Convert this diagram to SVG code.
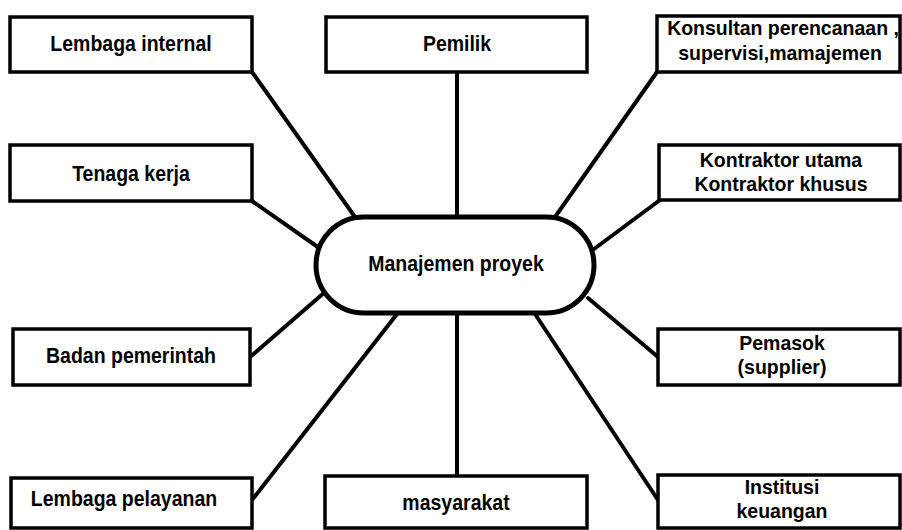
<svg xmlns="http://www.w3.org/2000/svg" width="902" height="530" viewBox="0 0 902 530">
<style>
.box{fill:#fff;stroke:#000;stroke-width:3.5}
.hub{fill:#fff;stroke:#000;stroke-width:5}
.con{stroke:#000;stroke-width:4;fill:none;stroke-linecap:round}
text{font-family:"Liberation Sans",Arial,sans-serif;font-weight:bold;font-size:19.5px;fill:#000;text-anchor:middle}
</style>
<rect width="902" height="530" fill="#fff"/>
<g id="connectors">
<line class="con" x1="252" y1="72" x2="355" y2="217"/>
<line class="con" x1="457" y1="72" x2="457" y2="217"/>
<line class="con" x1="657" y1="72" x2="555" y2="217"/>
<line class="con" x1="252" y1="201" x2="322" y2="250"/>
<line class="con" x1="660" y1="200" x2="590" y2="252"/>
<line class="con" x1="250" y1="357" x2="325" y2="292"/>
<line class="con" x1="658" y1="357" x2="588" y2="298"/>
<line class="con" x1="252" y1="500" x2="397" y2="314"/>
<line class="con" x1="457" y1="313" x2="457" y2="476"/>
<line class="con" x1="658" y1="500" x2="535" y2="314"/>
</g>
<g id="hub">
<rect class="hub" x="316" y="217" width="278" height="96" rx="48" ry="48"/>
<text transform="translate(456 271) scale(1 1.12)">Manajemen proyek</text>
</g>
<g id="lembaga-internal">
<rect class="box" x="10" y="17" width="242" height="55"/>
<text transform="translate(131 51) scale(1 1.12)">Lembaga internal</text>
</g>
<g id="pemilik">
<rect class="box" x="326" y="17" width="261" height="55"/>
<text transform="translate(457 51) scale(1 1.12)">Pemilik</text>
</g>
<g id="konsultan">
<rect class="box" x="657" y="16" width="243" height="56"/>
<text transform="translate(783 35) scale(1 1.08)">Konsultan perencanaan ,</text>
<text transform="translate(780 60) scale(1 1.08)">supervisi,mamajemen</text>
</g>
<g id="tenaga-kerja">
<rect class="box" x="10" y="145" width="242" height="56"/>
<text transform="translate(131 181) scale(1 1.12)">Tenaga kerja</text>
</g>
<g id="kontraktor">
<rect class="box" x="659" y="145" width="241" height="55"/>
<text transform="translate(781 167) scale(1 1.08)">Kontraktor utama</text>
<text transform="translate(781 191) scale(1 1.08)">Kontraktor khusus</text>
</g>
<g id="badan-pemerintah">
<rect class="box" x="13" y="329" width="237" height="56"/>
<text transform="translate(131 363) scale(1 1.12)">Badan pemerintah</text>
</g>
<g id="pemasok">
<rect class="box" x="658" y="329" width="242" height="56"/>
<text transform="translate(782 350) scale(1 1.08)">Pemasok</text>
<text transform="translate(782 374) scale(1 1.08)">(supplier)</text>
</g>
<g id="lembaga-pelayanan">
<rect class="box" x="11" y="478" width="241" height="50"/>
<text transform="translate(124 506) scale(1 1.12)">Lembaga pelayanan</text>
</g>
<g id="masyarakat">
<rect class="box" x="325" y="476" width="262" height="52"/>
<text transform="translate(456 510) scale(1 1.12)">masyarakat</text>
</g>
<g id="institusi">
<rect class="box" x="658" y="475" width="242" height="53"/>
<text transform="translate(782 494) scale(1 1.08)">Institusi</text>
<text transform="translate(782 518) scale(1 1.08)">keuangan</text>
</g>
</svg>
